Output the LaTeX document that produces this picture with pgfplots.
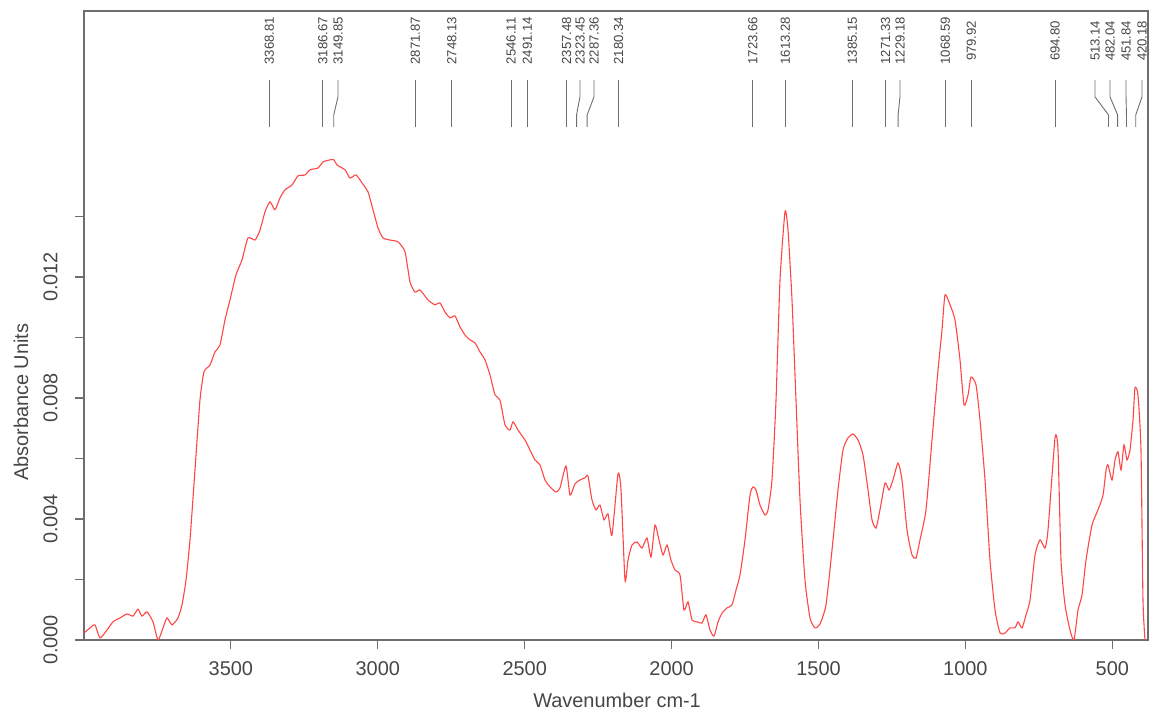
\documentclass[border=0pt]{standalone}
\usepackage{pgfplots}
\pgfplotsset{compat=1.18}
\usepackage{pgfplotstable}
\usepackage{fontspec}
\setmainfont{Liberation Sans}

\definecolor{spec}{RGB}{255,70,70}
\definecolor{frame}{RGB}{110,110,110}
\definecolor{txt}{RGB}{70,70,70}

% wavenumber (cm^-1)  absorbance
\pgfplotstableread{
wn      A
4000.0  0.00023
3979.6  0.00040
3962.6  0.00050
3945.5  0.00007
3921.7  0.00033
3901.3  0.00060
3877.5  0.00073
3853.6  0.00086
3833.2  0.00079
3816.2  0.00102
3802.6  0.00079
3785.6  0.00093
3765.1  0.00060
3748.1  0.00000
3731.1  0.00040
3717.5  0.00073
3700.5  0.00050
3680.1  0.00073
3666.4  0.00116
3652.8  0.00198
3639.2  0.00331
3622.2  0.00562
3605.2  0.00793
3591.6  0.00886
3571.1  0.00909
3554.1  0.00952
3537.1  0.00975
3520.1  0.01058
3503.1  0.01124
3482.6  0.01207
3462.2  0.01256
3441.8  0.01329
3417.8  0.01322
3400.9  0.01355
3383.9  0.01415
3366.9  0.01448
3349.9  0.01422
3332.9  0.01461
3315.9  0.01488
3292.0  0.01504
3271.6  0.01534
3247.8  0.01537
3230.8  0.01554
3203.5  0.01560
3186.5  0.01580
3162.7  0.01587
3149.1  0.01587
3138.9  0.01570
3111.6  0.01554
3094.6  0.01527
3074.2  0.01537
3053.8  0.01511
3033.3  0.01481
3016.3  0.01422
2999.3  0.01362
2982.3  0.01329
2958.5  0.01322
2931.2  0.01316
2907.4  0.01283
2890.4  0.01184
2873.4  0.01150
2856.4  0.01157
2829.1  0.01124
2805.3  0.01108
2788.3  0.01114
2771.3  0.01084
2754.3  0.01065
2737.2  0.01071
2720.2  0.01035
2703.2  0.01008
2686.2  0.00992
2669.2  0.00982
2652.1  0.00952
2635.1  0.00926
2618.1  0.00876
2601.1  0.00810
2584.1  0.00793
2567.0  0.00711
2550.0  0.00694
2539.8  0.00721
2522.8  0.00694
2499.0  0.00661
2482.0  0.00628
2465.0  0.00595
2447.9  0.00579
2430.9  0.00529
2413.9  0.00506
2393.5  0.00489
2379.8  0.00503
2359.4  0.00575
2345.8  0.00479
2328.8  0.00516
2311.8  0.00529
2294.8  0.00536
2284.6  0.00542
2271.0  0.00463
2257.3  0.00430
2243.7  0.00446
2230.1  0.00397
2216.5  0.00417
2202.9  0.00347
2182.4  0.00549
2172.2  0.00496
2158.6  0.00198
2148.4  0.00264
2134.8  0.00314
2117.8  0.00324
2100.7  0.00304
2083.7  0.00337
2070.1  0.00274
2056.5  0.00380
2042.9  0.00331
2029.3  0.00281
2015.6  0.00314
2002.0  0.00264
1988.4  0.00231
1971.4  0.00215
1957.8  0.00099
1944.2  0.00126
1930.5  0.00066
1913.5  0.00060
1896.5  0.00056
1882.9  0.00083
1869.3  0.00033
1855.7  0.00013
1842.0  0.00060
1828.4  0.00089
1811.4  0.00106
1794.4  0.00116
1780.8  0.00165
1767.2  0.00215
1750.2  0.00331
1733.1  0.00479
1722.9  0.00506
1712.7  0.00496
1699.1  0.00446
1682.1  0.00413
1671.9  0.00430
1658.3  0.00529
1644.6  0.00793
1631.0  0.01190
1614.0  0.01415
1603.8  0.01355
1590.2  0.01124
1576.6  0.00793
1563.0  0.00463
1546.0  0.00198
1528.9  0.00073
1511.9  0.00040
1494.9  0.00053
1474.5  0.00116
1454.0  0.00298
1433.6  0.00496
1416.6  0.00628
1399.6  0.00668
1382.6  0.00681
1365.5  0.00661
1348.5  0.00612
1331.5  0.00496
1317.9  0.00397
1304.3  0.00370
1290.7  0.00430
1273.7  0.00519
1260.0  0.00496
1246.4  0.00529
1229.4  0.00585
1215.8  0.00529
1198.8  0.00364
1181.7  0.00281
1168.1  0.00271
1154.5  0.00331
1134.1  0.00430
1113.7  0.00661
1093.2  0.00893
1079.6  0.01025
1069.4  0.01141
1052.4  0.01108
1035.4  0.01058
1018.4  0.00926
1004.7  0.00777
 991.1  0.00810
 980.9  0.00869
 963.9  0.00843
 950.3  0.00727
 933.3  0.00529
 916.3  0.00264
 899.2  0.00099
 882.2  0.00023
 865.2  0.00023
 848.2  0.00040
 831.2  0.00040
 821.0  0.00060
 807.3  0.00040
 793.7  0.00083
 780.1  0.00132
 763.1  0.00281
 746.1  0.00331
 729.0  0.00304
 718.8  0.00364
 695.0  0.00668
 684.8  0.00628
 674.6  0.00264
 661.0  0.00116
 644.0  0.00033
 630.4  0.00000
 616.7  0.00099
 603.1  0.00149
 589.5  0.00264
 569.1  0.00380
 548.7  0.00430
 531.6  0.00479
 521.4  0.00562
 514.6  0.00579
 501.0  0.00529
 490.8  0.00595
 480.6  0.00622
 470.4  0.00562
 460.2  0.00645
 450.0  0.00595
 439.8  0.00628
 429.6  0.00727
 422.8  0.00833
 412.6  0.00810
 402.4  0.00628
 395.6  0.00132
 388.7  0.00000
}\spectrum

% peak marker: label position, peak position, label text
\newcommand{\peak}[3]{%
  \draw[frame, line width=0.9bp]
    (axis cs:#1,0.018514) -- (axis cs:#1,0.017952)
    -- (axis cs:#2,0.017357) -- (axis cs:#2,0.016960);
  \node[rotate=90, txt, inner sep=0pt, font=\fontsize{13.2}{15}\selectfont]
    at (axis cs:#1,0.019803) {#3};
}

\begin{document}
\begin{tikzpicture}
\useasboundingbox (0,0) rectangle (1155bp,717bp);
\begin{axis}[
  at={(84bp,77bp)}, anchor=south west,
  scale only axis, width=1064bp, height=629bp,
  x dir=reverse,
  xmin=378.5, xmax=4000,
  ymin=0, ymax=0.02079,
  axis line style={frame, line width=1.4bp},
  tick style={frame, line width=1.2bp},
  tick align=outside,
  xtick pos=bottom, ytick pos=left,
  major tick length=9bp, minor tick length=9bp,
  xtick={500,1000,...,3500},
  ytick={0,0.004,0.008,0.012},
  minor ytick={0.002,0.006,0.010,0.014},
  scaled y ticks=false,
  /pgf/number format/assume math mode=true,
  xticklabel style={/pgf/number format/1000 sep={}, txt,
    font=\fontsize{20}{24}\selectfont, yshift=-9bp},
  yticklabel style={/pgf/number format/fixed, /pgf/number format/zerofill,
    /pgf/number format/precision=3, txt, rotate=90, anchor=south,
    font=\fontsize{20}{24}\selectfont, yshift=14bp},
  xlabel={Wavenumber cm-1},
  ylabel={Absorbance Units},
  xlabel style={txt, font=\fontsize{20}{24}\selectfont,
    at={(axis description cs:0.501,-0.0954)}, anchor=center},
  ylabel style={txt, font=\fontsize{20}{24}\selectfont,
    at={(axis description cs:-0.0592,0.378)}, anchor=center, rotate=0},
  clip=true,
]
\addplot[spec, line width=1.1bp, smooth, tension=0.35] table[x=wn, y=A] {\spectrum};

\peak{3368.81}{3368.81}{3368.81}
\peak{3186.67}{3186.67}{3186.67}
\peak{3135.5}{3149.85}{3149.85}
\peak{2871.87}{2871.87}{2871.87}
\peak{2748.13}{2748.13}{2748.13}
\peak{2546.11}{2546.11}{2546.11}
\peak{2491.14}{2491.14}{2491.14}
\peak{2357.48}{2357.48}{2357.48}
\peak{2311.8}{2323.45}{2323.45}
\peak{2264.1}{2287.36}{2287.36}
\peak{2180.34}{2180.34}{2180.34}
\peak{1723.66}{1723.66}{1723.66}
\peak{1613.28}{1613.28}{1613.28}
\peak{1385.15}{1385.15}{1385.15}
\peak{1271.33}{1271.33}{1271.33}
\peak{1222.6}{1229.18}{1229.18}
\peak{1068.59}{1068.59}{1068.59}
\peak{979.92}{979.92}{979.92}
\peak{694.80}{694.80}{694.80}
\peak{558.9}{513.14}{513.14}
\peak{507.8}{482.04}{482.04}
\peak{453.3}{451.84}{451.84}
\peak{398.9}{420.18}{420.18}
\end{axis}
\end{tikzpicture}
\end{document}
